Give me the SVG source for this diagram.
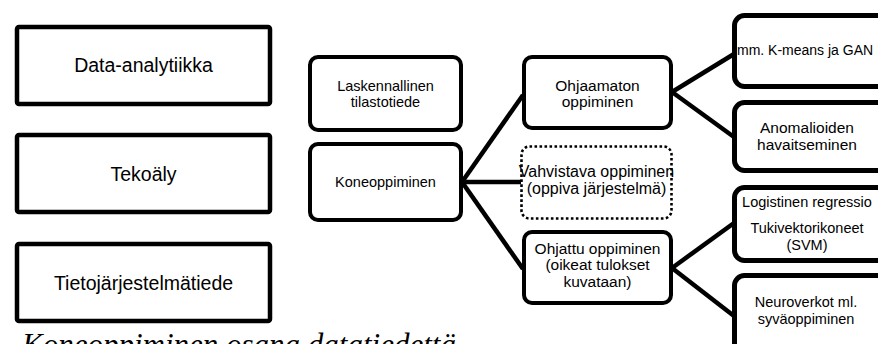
<svg xmlns="http://www.w3.org/2000/svg" width="878" height="344" viewBox="0 0 878 344">
  <style>
    .big { fill: #fff; stroke: #000; stroke-width: 4.5; }
    .mid { fill: #fff; stroke: #000; stroke-width: 4; }
    .dot { fill: #fff; stroke: #000; stroke-width: 2.6; stroke-dasharray: 2.6 2.4; }
    .leaf { fill: #fff; stroke: #000; stroke-width: 5; }
    .link { stroke: #000; stroke-width: 4.5; fill: none; }
    text { font-family: "Liberation Sans", Arial, sans-serif; fill: #000; text-anchor: middle; }
    .t19 { font-size: 19.5px; }
    .t14 { font-size: 14.5px; }
    .t15 { font-size: 15.5px; }
    .t16 { font-size: 16px; }
    .cap { font-family: "Liberation Serif", "Times New Roman", serif; font-style: italic; font-size: 31px; text-anchor: start; }
  </style>
  <rect width="878" height="344" fill="#fff"/>

  <!-- connectors -->
  <g id="connectors">
    <line class="link" x1="462" y1="182" x2="523" y2="95"/>
    <line class="link" x1="462" y1="182" x2="521" y2="182"/>
    <line class="link" x1="462" y1="182" x2="523" y2="269"/>
    <line class="link" x1="672" y1="92" x2="734" y2="54"/>
    <line class="link" x1="672" y1="92" x2="734" y2="137"/>
    <line class="link" x1="672" y1="268" x2="734" y2="223"/>
    <line class="link" x1="672" y1="268" x2="734" y2="316"/>
  </g>

  <!-- disciplines -->
  <g id="data-analytiikka">
    <rect class="big" x="17" y="27" width="253" height="77" rx="2"/>
    <text class="t19" x="143.5" y="72">Data-analytiikka</text>
  </g>
  <g id="tekoaly">
    <rect class="big" x="17" y="135" width="253" height="77" rx="2"/>
    <text class="t19" x="143.5" y="181">Tekoäly</text>
  </g>
  <g id="tietojarjestelmatiede">
    <rect class="big" x="17" y="244" width="253" height="77" rx="2"/>
    <text class="t19" x="143.5" y="290">Tietojärjestelmätiede</text>
  </g>

  <!-- middle column -->
  <g id="laskennallinen">
    <rect class="mid" x="310" y="57" width="151" height="73" rx="8"/>
    <text class="t14" x="385.5" y="91">Laskennallinen</text>
    <text class="t14" x="385.5" y="107">tilastotiede</text>
  </g>
  <g id="koneoppiminen">
    <rect class="mid" x="310" y="144" width="151" height="76" rx="8"/>
    <text class="t14" x="385.5" y="187">Koneoppiminen</text>
  </g>

  <!-- learning types -->
  <g id="ohjaamaton">
    <rect class="mid" x="524" y="57" width="147" height="71" rx="8"/>
    <text class="t15" x="597.5" y="91">Ohjaamaton</text>
    <text class="t15" x="597.5" y="107">oppiminen</text>
  </g>
  <g id="vahvistava">
    <rect class="dot" x="521.5" y="146.5" width="150" height="72" rx="8"/>
    <text class="t16" x="596.5" y="177">Vahvistava oppiminen</text>
    <text class="t16" x="596.5" y="194">(oppiva järjestelmä)</text>
  </g>
  <g id="ohjattu">
    <rect class="mid" x="524" y="232" width="147" height="71" rx="8"/>
    <text class="t15" x="597.5" y="254">Ohjattu oppiminen</text>
    <text class="t15" x="597.5" y="270">(oikeat tulokset</text>
    <text class="t15" x="597.5" y="287">kuvataan)</text>
  </g>

  <!-- methods -->
  <g id="kmeans">
    <rect class="leaf" x="734.5" y="15.5" width="160" height="71" rx="10"/>
    <text x="737" y="55" style="font-size:14px;text-anchor:start">mm. K-means ja GAN</text>
  </g>
  <g id="anomaliat">
    <rect class="leaf" x="734.5" y="102.5" width="160" height="68" rx="10"/>
    <text class="t15" x="807" y="133">Anomalioiden</text>
    <text class="t15" x="807" y="150">havaitseminen</text>
  </g>
  <g id="regressio">
    <rect class="leaf" x="734.5" y="187.5" width="160" height="73" rx="10"/>
    <text class="t14" x="807" y="207">Logistinen regressio</text>
    <text class="t14" x="807" y="233">Tukivektorikoneet</text>
    <text class="t14" x="807" y="250">(SVM)</text>
  </g>
  <g id="neuroverkot">
    <rect class="leaf" x="734.5" y="275.5" width="160" height="100" rx="10"/>
    <text class="t14" x="806" y="307">Neuroverkot ml.</text>
    <text class="t14" x="806" y="324">syväoppiminen</text>
  </g>

  <!-- caption, partly below the lower edge -->
  <text class="cap" x="22" y="355">Koneoppiminen osana datatiedettä</text>
</svg>
